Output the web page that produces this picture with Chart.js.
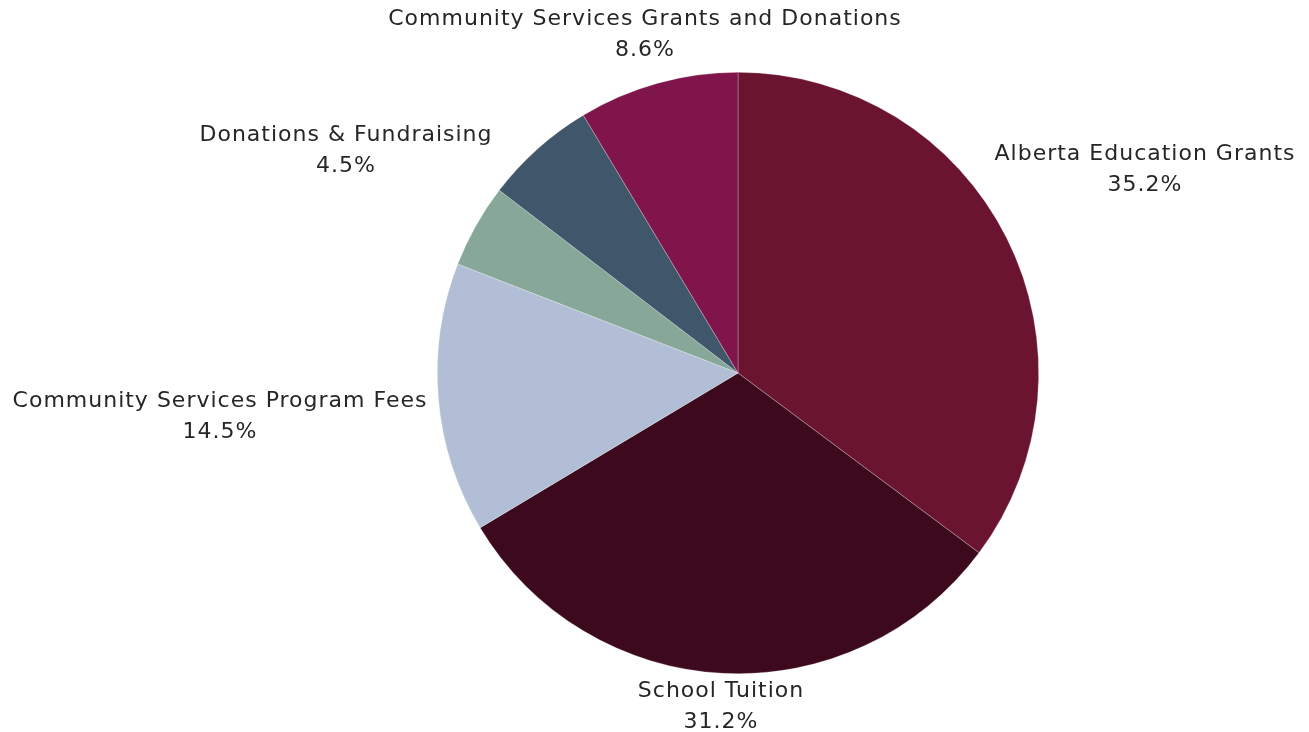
<!DOCTYPE html>
<html>
<head>
<meta charset="utf-8">
<script src="https://cdn.jsdelivr.net/npm/chart.js@4"></script>
<style>
html,body{margin:0;padding:0;background:#fff;}
#wrap{position:relative;width:1309px;height:732px;}
</style>
</head>
<body>
<div id="wrap"><canvas id="c" width="1309" height="732"></canvas></div>
<script>
const categories = ["Alberta Education Grants", "School Tuition", "Community Services Program Fees", "Donations & Fundraising", "Other", "Community Services Grants and Donations"];
const values = [35.2, 31.2, 14.5, 4.5, 6.0, 8.6];
const showLabel = [true, true, true, true, false, true];
const colors = ["#6a1430", "#3c0a1c", "#b2bed5", "#87a899", "#40566b", "#80154b"];

// label anchor offsets from pie centre (px) for line 1 centre
const labelOffsets = [[407, -219], [-17, 318], [-518, 28], [-392, -238], [0, 0], [-93, -354]];

const labelPlugin = {
  id: 'sliceLabels',
  afterDraw(chart) {
    const ctx = chart.ctx;
    const meta = chart.getDatasetMeta(0);
    ctx.save();
    ctx.fillStyle = '#262626';
    ctx.font = '22px "DejaVu Sans", sans-serif';
    ctx.letterSpacing = '1px';
    ctx.textAlign = 'center';
    ctx.textBaseline = 'middle';
    meta.data.forEach((arc, i) => {
      if (!showLabel[i]) return;
      const cx = arc.x, cy = arc.y;
      const [dx, dy] = labelOffsets[i];
      const x = cx + dx, y = cy + dy;
      ctx.fillText(categories[i], x, y);
      ctx.fillText(values[i].toFixed(1) + '%', x, y + 31);
    });
    ctx.restore();
  }
};

new Chart(document.getElementById('c'), {
  type: 'pie',
  data: {
    labels: categories,
    datasets: [{
      data: values,
      backgroundColor: colors,
      borderColor: 'rgba(255,255,255,0.45)',
      borderWidth: 0.6
    }]
  },
  options: {
    responsive: false,
    animation: false,
    layout: { padding: { left: 437, right: 270, top: 72, bottom: 58 } },
    plugins: { legend: { display: false }, tooltip: { enabled: false } }
  },
  plugins: [labelPlugin]
});
</script>
</body>
</html>
